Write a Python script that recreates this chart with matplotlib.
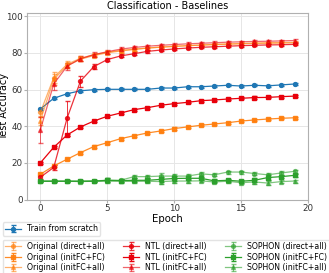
import numpy as np
import matplotlib
matplotlib.use("Agg")
import matplotlib.pyplot as plt

epochs = np.arange(20)

scratch = [49.4, 55.2, 57.7, 59.3, 59.9, 60.1, 60.1, 60.1, 60.1, 60.8, 60.8, 61.5, 61.5, 61.9, 62.3, 61.9, 62.3, 62.0, 62.5, 63.0]
orig_direct = [47.5, 66.5, 73.8, 77.0, 79.0, 80.3, 81.3, 82.0, 82.6, 83.1, 83.5, 83.9, 84.2, 84.5, 84.7, 84.9, 85.1, 85.2, 85.3, 85.4]
orig_fc = [13.8, 18.3, 22.0, 25.6, 28.9, 31.0, 33.2, 34.8, 36.3, 37.4, 38.7, 39.6, 40.5, 41.2, 41.9, 42.8, 43.4, 43.9, 44.3, 44.6]
orig_all = [43.0, 65.5, 73.0, 76.5, 78.5, 80.0, 81.0, 81.8, 82.6, 83.1, 83.5, 83.9, 84.2, 84.6, 84.8, 85.1, 85.3, 85.5, 85.6, 85.7]
ntl_direct = [12.2, 17.5, 44.4, 64.6, 72.5, 76.3, 78.3, 79.5, 80.8, 81.5, 82.1, 82.6, 83.0, 83.3, 83.6, 83.9, 84.1, 84.3, 84.4, 84.6]
ntl_fc = [20.0, 28.5, 35.2, 39.6, 42.8, 45.4, 47.2, 49.0, 50.1, 51.4, 52.3, 53.0, 53.9, 54.3, 54.8, 55.2, 55.6, 55.7, 56.1, 56.4]
ntl_all = [38.0, 63.0, 72.7, 76.8, 79.0, 80.6, 82.0, 82.9, 83.6, 84.1, 84.5, 84.9, 85.2, 85.5, 85.8, 86.0, 86.2, 86.3, 86.5, 86.7]
soph_direct = [10.0, 10.0, 10.0, 10.0, 10.2, 10.5, 10.5, 12.5, 12.5, 12.8, 12.8, 12.8, 14.0, 13.5, 15.0, 15.0, 14.2, 13.5, 14.5, 15.4]
soph_fc = [10.0, 10.0, 10.0, 10.0, 10.0, 10.5, 10.3, 10.5, 10.5, 11.0, 11.5, 11.6, 11.6, 10.2, 10.5, 10.0, 10.5, 12.0, 12.5, 13.2]
soph_all = [10.0, 10.0, 10.0, 9.8, 10.0, 10.0, 10.0, 9.9, 10.0, 9.8, 10.1, 10.1, 10.2, 9.6, 10.0, 9.2, 9.6, 9.0, 9.8, 10.1]

err_small = [0.6] * 20
err_early = [2.5, 3.0, 1.5, 1.2, 1.0, 0.9, 0.9, 0.8, 0.8, 0.7, 0.7, 0.7, 0.6, 0.6, 0.6, 0.6, 0.6, 0.6, 0.6, 0.6]
err_ntl_direct = [1.0, 1.5, 9.5, 3.0, 1.5, 1.0, 0.8, 0.8, 0.7, 0.7, 0.6, 0.6, 0.6, 0.6, 0.6, 0.6, 0.6, 0.6, 0.6, 0.6]
err_ntl_all = [7.0, 3.0, 2.0, 1.5, 1.2, 1.0, 1.0, 0.9, 0.9, 0.8, 0.8, 0.8, 0.7, 0.7, 0.7, 0.7, 0.7, 0.7, 0.7, 0.7]
err_soph = [0.5, 0.5, 0.5, 0.5, 0.6, 1.0, 0.8, 1.0, 1.0, 1.5, 1.2, 1.0, 0.8, 0.8, 0.8, 0.8, 1.0, 1.2, 1.0, 0.8]

fig = plt.figure(figsize=(3.29, 2.73), dpi=100)
ax = fig.add_axes([0.082, 0.269, 0.854, 0.682])

kw = dict(markersize=2.8, linewidth=0.9, capsize=1.8, elinewidth=0.7)
series = [
    (scratch, err_small, "#1f77b4", "o", 1.0, "Train from scratch"),
    (orig_direct, err_early, "#ff7f0e", "o", 0.6, "Original (direct+all)"),
    (orig_fc, err_small, "#ff7f0e", "s", 0.9, "Original (initFC+FC)"),
    (orig_all, err_early, "#ff7f0e", "^", 0.6, "Original (initFC+all)"),
    (ntl_direct, err_ntl_direct, "#e8000b", "o", 0.8, "NTL (direct+all)"),
    (ntl_fc, err_small, "#e8000b", "s", 1.0, "NTL (initFC+FC)"),
    (ntl_all, err_ntl_all, "#e8000b", "^", 0.6, "NTL (initFC+all)"),
    (soph_direct, err_soph, "#2ca02c", "o", 0.6, "SOPHON (direct+all)"),
    (soph_fc, err_soph, "#2ca02c", "s", 1.0, "SOPHON (initFC+FC)"),
    (soph_all, err_soph, "#2ca02c", "^", 0.6, "SOPHON (initFC+all)"),
]
handles = []
for vals, err, col, mk, a, lab in series:
    h = ax.errorbar(epochs, vals, yerr=err, color=col, marker=mk, alpha=a, label=lab, **kw)
    handles.append(h)

ax.set_xlim(-1, 20)
ax.set_ylim(0, 101.5)
ax.set_xticks([0, 5, 10, 15, 20])
ax.set_yticks([0, 20, 40, 60, 80, 100])
ax.grid(True, color="#e6e6e6", linewidth=0.7)
ax.set_axisbelow(True)
for s in ax.spines.values():
    s.set_color("#b0b0b0")
ax.tick_params(labelsize=6.3, colors="#333333", length=2, pad=1, color="#b0b0b0")
ax.set_xlabel("Epoch", fontsize=7.3, labelpad=1)
ax.set_ylabel("Test Accuracy", fontsize=7.0)
ax.yaxis.set_label_coords(-0.063, 0.5)
ax.set_title("Classification - Baselines", fontsize=7, pad=3)

leg_kw = dict(fontsize=5.6, handlelength=2.0, borderpad=0.3, handletextpad=0.8,
              labelspacing=0.2, borderaxespad=0, framealpha=0.8, edgecolor="#dddddd")
fig.legend(handles=handles[:1], loc="upper left", bbox_to_anchor=(0.008, 0.187), **leg_kw)
fig.legend(handles=handles[1:], loc="upper left", bbox_to_anchor=(0.008, 0.122), ncol=3,
           columnspacing=2.4, **leg_kw)

fig.savefig("out.png", dpi=100)
